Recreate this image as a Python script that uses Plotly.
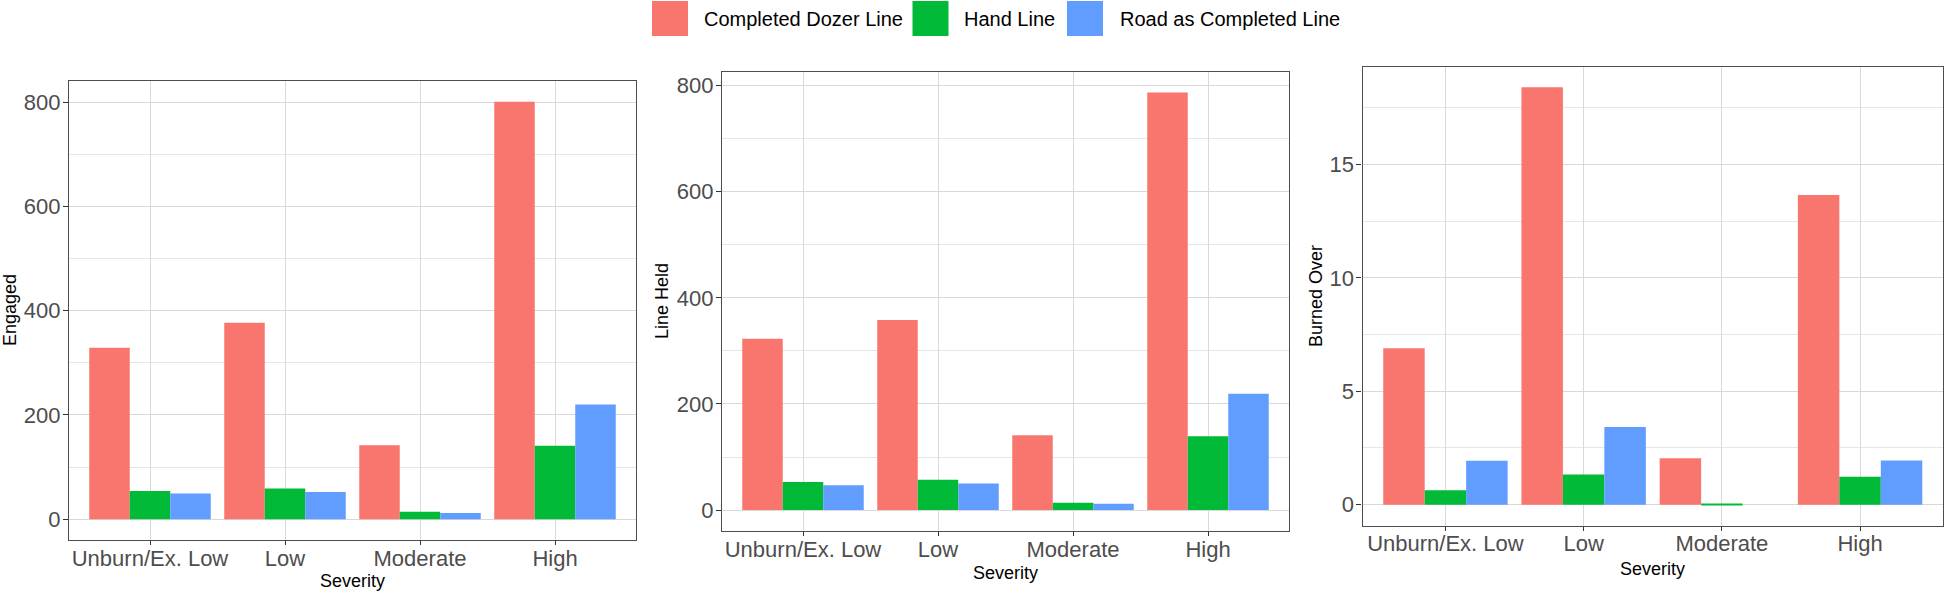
import plotly.graph_objects as go

# severity classes on the x axis
severity = ["Unburn/Ex. Low", "Low", "Moderate", "High"]

line_types = ["Completed Dozer Line", "Hand Line", "Road as Completed Line"]
colors = ["#F8766D", "#00BA38", "#619CFF"]

# panel 1: Engaged
engaged_dozer = [329, 377, 142, 801]
engaged_hand = [54, 59, 14, 141]
engaged_road = [49, 52, 12, 220]

# panel 2: Line Held
held_dozer = [323, 358, 141, 787]
held_hand = [53, 57, 14, 139]
held_road = [47, 50, 12, 219]

# panel 3: Burned Over
burned_dozer = [6.9, 18.4, 2.05, 13.65]
burned_hand = [0.63, 1.33, 0.05, 1.23]
burned_road = [1.94, 3.42, 0, 1.95]

W, H = 1944, 594
FONT = "Liberation Sans, Arial, sans-serif"


def px(x):
    return x / W


def py(y):
    return 1 - y / H


panels = [
    # (series, y title, px box [left, right, top, bottom], y range, major dtick, minor dtick)
    ([engaged_dozer, engaged_hand, engaged_road], "Engaged", [69, 636, 81, 540], [-40.05, 841.05], 200, 100),
    ([held_dozer, held_hand, held_road], "Line Held", [722, 1289, 71.5, 531], [-39.35, 826.35], 200, 100),
    ([burned_dozer, burned_hand, burned_road], "Burned Over", [1362.5, 1943, 66.5, 525.5], [-0.92, 19.32], 5, 2.5),
]
ytitle_x = [10, 662, 1316]
ytitle_y = [310, 301, 296]
xtitle_y = [581, 572.5, 569]

fig = go.Figure()
annotations = []
shapes = []

for i, (series, ytitle, box, yr, dt, mdt) in enumerate(panels):
    n = "" if i == 0 else str(i + 1)
    for name, vals, col in zip(line_types, series, colors):
        fig.add_trace(go.Bar(
            x=severity, y=vals, name=name, marker_color=col,
            marker_line_width=0, showlegend=False,
            xaxis="x" + n, yaxis="y" + n,
        ))
    l, r, t, b = box
    axis_common = dict(
        showline=True, mirror=True, linecolor="#4d4d4d", linewidth=1.3,
        ticks="outside", tickcolor="#333333", tickwidth=1.2,
        tickfont=dict(family=FONT, size=22, color="#4d4d4d"),
        showgrid=True, gridcolor="#d9d9d9", gridwidth=1.4, zeroline=False,
    )
    fig.update_layout(**{
        "xaxis" + n: dict(
            domain=[px(l), px(r)], anchor="y" + n,
            type="category", categoryorder="array", categoryarray=severity,
            range=[-0.6, 3.6], ticklen=4, ticklabelstandoff=-6, **axis_common,
        ),
        "yaxis" + n: dict(
            domain=[py(b), py(t)], anchor="x" + n,
            range=yr, tick0=0, dtick=dt, ticklen=5, ticklabelstandoff=-2,
            minor=dict(dtick=mdt, tick0=0, showgrid=True, gridcolor="#e6e6e6", gridwidth=1),
            **axis_common,
        ),
    })
    annotations.append(dict(
        text=ytitle, x=px(ytitle_x[i]), y=py(ytitle_y[i]), xref="paper", yref="paper",
        textangle=-90, showarrow=False, xanchor="center", yanchor="middle",
        font=dict(family=FONT, size=18, color="black"),
    ))
    annotations.append(dict(
        text="Severity", x=px((l + r) / 2), y=py(xtitle_y[i]), xref="paper", yref="paper",
        showarrow=False, xanchor="center", yanchor="middle",
        font=dict(family=FONT, size=18, color="black"),
    ))

# legend drawn at the top centre
key_x = [652, 912.5, 1067]
text_x = [701.5, 961.5, 1117.5]
for kx, tx, name, col in zip(key_x, text_x, line_types, colors):
    shapes.append(dict(
        type="rect", xref="paper", yref="paper",
        x0=px(kx), x1=px(kx + 36), y0=py(36), y1=py(1),
        fillcolor=col, line=dict(width=0),
    ))
    annotations.append(dict(
        text=name, x=px(tx), y=py(19), xref="paper", yref="paper",
        showarrow=False, xanchor="left", yanchor="middle",
        font=dict(family=FONT, size=20, color="black"),
    ))

fig.update_layout(
    width=W, height=H,
    margin=dict(l=0, r=0, t=0, b=0),
    barmode="group", bargap=0.1, bargroupgap=0,
    paper_bgcolor="white", plot_bgcolor="white",
    showlegend=False,
    annotations=annotations, shapes=shapes,
    font=dict(family=FONT),
)

# drop the default page margin so the figure sits at the window's corner
fig.write_html(
    "out.html",
    config={"displayModeBar": False},
    post_script="document.body.style.margin = '0';",
)
